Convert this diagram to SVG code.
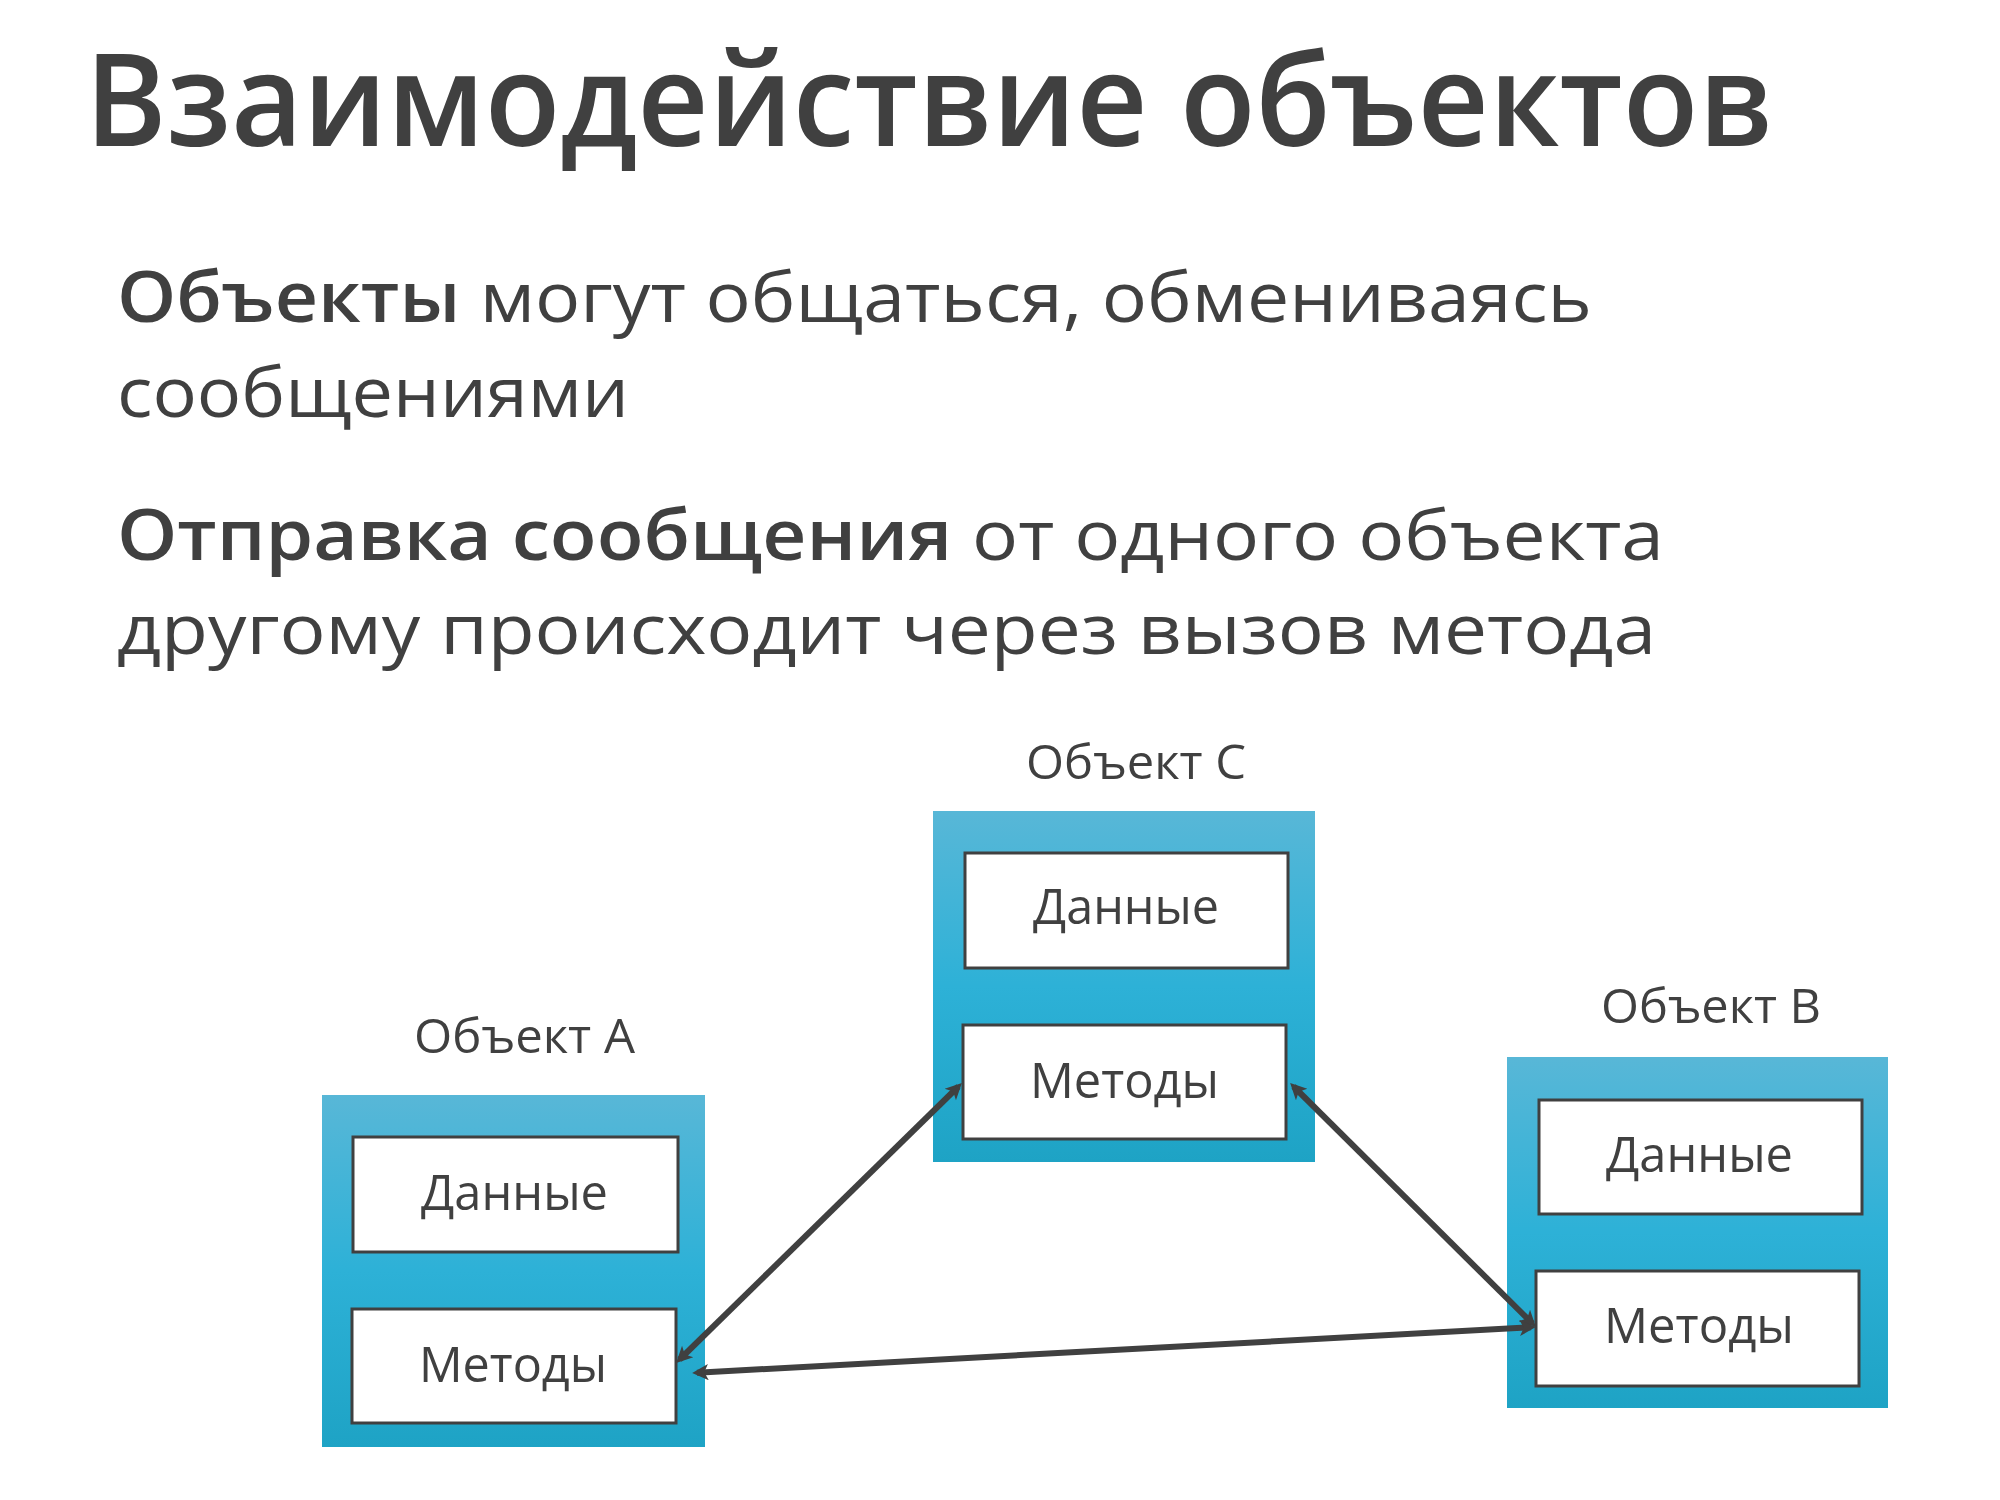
<svg xmlns="http://www.w3.org/2000/svg" width="2000" height="1500" viewBox="0 0 2000 1500">
<defs>
<linearGradient id="blue" x1="0" y1="0" x2="0" y2="1">
<stop offset="0" stop-color="#58b7d7"/>
<stop offset="0.5" stop-color="#2db1d7"/>
<stop offset="1" stop-color="#1ea3c5"/>
</linearGradient>
<marker id="ah" viewBox="0 0 10 10" refX="7" refY="5" markerWidth="3.1" markerHeight="2.7" orient="auto-start-reverse" markerUnits="strokeWidth">
<path d="M0,0 L10,5 L0,10 L2.5,5 Z" fill="#404040"/>
</marker>
</defs>
<style>
text{font-family:"Open Sans","Noto Sans","DejaVu Sans",sans-serif;fill:#404040}
.title{font-size:128px;font-weight:600}
.body{font-size:70px;font-weight:400}
.b{font-weight:600}
.lbl{font-size:48px}
.in{font-size:49px}
.outer{fill:url(#blue)}
.part{fill:#ffffff;stroke:#404040;stroke-width:3}
.conn{stroke:#404040;stroke-width:6;fill:none;marker-start:url(#ah);marker-end:url(#ah)}
</style>
<rect width="2000" height="1500" fill="#ffffff"/>
<text class="title" x="85" y="146" textLength="1688" lengthAdjust="spacingAndGlyphs">Взаимодействие объектов</text>
<text class="body" x="117" y="322" textLength="1475" lengthAdjust="spacingAndGlyphs"><tspan class="b">Объекты</tspan> могут общаться, обмениваясь</text>
<text class="body" x="117" y="417" textLength="512" lengthAdjust="spacingAndGlyphs">сообщениями</text>
<text class="body" x="117" y="560" textLength="1547" lengthAdjust="spacingAndGlyphs"><tspan class="b">Отправка сообщения</tspan> от одного объекта</text>
<text class="body" x="117" y="654" textLength="1539" lengthAdjust="spacingAndGlyphs">другому происходит через вызов метода</text>

<g id="objA">
<text class="lbl" x="414" y="1053" textLength="221" lengthAdjust="spacingAndGlyphs">Объект A</text>
<rect class="outer" x="322" y="1095" width="383" height="352"/>
<rect class="part" x="353" y="1137" width="325" height="115"/>
<text class="in" x="421" y="1210" textLength="187" lengthAdjust="spacingAndGlyphs">Данные</text>
<rect class="part" x="352" y="1309" width="324" height="114"/>
<text class="in" x="419" y="1382" textLength="188" lengthAdjust="spacingAndGlyphs">Методы</text>
</g>

<g id="objC">
<text class="lbl" x="1026" y="779" textLength="220" lengthAdjust="spacingAndGlyphs">Объект C</text>
<rect class="outer" x="933" y="811" width="382" height="351"/>
<rect class="part" x="965" y="853" width="323" height="115"/>
<text class="in" x="1033" y="924" textLength="186" lengthAdjust="spacingAndGlyphs">Данные</text>
<rect class="part" x="963" y="1025" width="323" height="114"/>
<text class="in" x="1030" y="1098" textLength="189" lengthAdjust="spacingAndGlyphs">Методы</text>
</g>

<g id="objB">
<text class="lbl" x="1601" y="1023" textLength="220" lengthAdjust="spacingAndGlyphs">Объект B</text>
<rect class="outer" x="1507" y="1057" width="381" height="351"/>
<rect class="part" x="1539" y="1100" width="323" height="114"/>
<text class="in" x="1606" y="1172" textLength="187" lengthAdjust="spacingAndGlyphs">Данные</text>
<rect class="part" x="1536" y="1271" width="323" height="115"/>
<text class="in" x="1604" y="1343" textLength="190" lengthAdjust="spacingAndGlyphs">Методы</text>
</g>

<g id="connectors">
<line class="conn" x1="679.6" y1="1359.5" x2="958.4" y2="1086.5"/>
<line class="conn" x1="1293.6" y1="1086.5" x2="1532.4" y2="1323.5"/>
<line class="conn" x1="697" y1="1372.7" x2="1531" y2="1327.3"/>
</g>
</svg>
